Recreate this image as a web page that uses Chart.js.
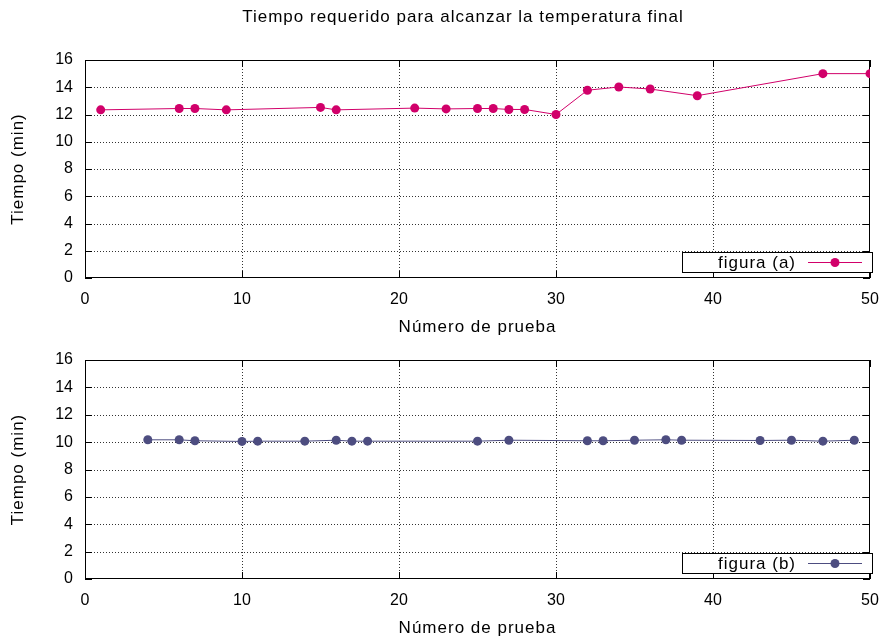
<!DOCTYPE html>
<html>
<head>
<meta charset="utf-8">
<script src="https://cdn.jsdelivr.net/npm/chart.js@4.4.0/dist/chart.umd.min.js"></script>
<style>
  body { margin: 0; background: #fff; }
  #wrap { position: relative; width: 886px; height: 640px; }
  canvas { position: absolute; left: 0; }
</style>
</head>
<body>
<div id="wrap">
  <canvas id="chartA" width="886" height="340" style="top:0"></canvas>
  <canvas id="chartB" width="886" height="300" style="top:340px"></canvas>
</div>
<script>
// figura (a)
const pruebaA = [1, 6, 7, 9, 15, 16, 21, 23, 25, 26, 27, 28, 30, 32, 34, 36, 39, 47, 50];
const tiempoA = [12.34, 12.44, 12.44, 12.34, 12.52, 12.34, 12.47, 12.41, 12.44, 12.44, 12.37, 12.37,
                 12.0, 13.78, 14.02, 13.87, 13.38, 15.0, 15.0];

// figura (b)
const pruebaB = [4, 6, 7, 10, 11, 14, 16, 17, 18, 25, 27, 32, 33, 35, 37, 38, 43, 45, 47, 49];
const tiempoB = [10.17, 10.17, 10.1, 10.05, 10.07, 10.07, 10.14, 10.07, 10.07, 10.07, 10.14,
                 10.1, 10.1, 10.14, 10.17, 10.14, 10.12, 10.14, 10.07, 10.14];

const xTicks = [0, 10, 20, 30, 40, 50];
const yTicks = [0, 2, 4, 6, 8, 10, 12, 14, 16];

const FONT = "'Liberation Sans', Arial, sans-serif";

// dotted grid, frame, inward ticks, axis titles and the boxed legend (gnuplot look)
const gnuplotStyle = {
  id: 'gnuplotStyle',
  beforeDatasetsDraw(chart) {
    const { ctx, chartArea: a, scales } = chart;
    ctx.save();
    ctx.lineWidth = 1;
    // grid
    ctx.strokeStyle = 'rgba(0,0,0,0.8)';
    ctx.setLineDash([1, 2]);
    ctx.beginPath();
    xTicks.slice(1, -1).forEach(v => {
      const x = Math.round(scales.x.getPixelForValue(v)) + 0.5;
      ctx.moveTo(x, a.top); ctx.lineTo(x, a.bottom);
    });
    yTicks.slice(1, -1).forEach(v => {
      const y = Math.round(scales.y.getPixelForValue(v)) + 0.5;
      ctx.moveTo(a.left, y); ctx.lineTo(a.right, y);
    });
    ctx.stroke();
    ctx.setLineDash([]);
    // frame
    ctx.strokeStyle = '#000';
    ctx.strokeRect(Math.round(a.left) + 0.5, Math.round(a.top) + 0.5,
      Math.round(a.right - a.left) - 1, Math.round(a.bottom - a.top) - 1);
    // inward ticks, mirrored
    ctx.beginPath();
    const t = 7;
    xTicks.forEach(v => {
      const x = Math.round(scales.x.getPixelForValue(v)) + 0.5;
      ctx.moveTo(x, a.bottom); ctx.lineTo(x, a.bottom - t);
      ctx.moveTo(x, a.top); ctx.lineTo(x, a.top + t);
    });
    yTicks.forEach(v => {
      const y = Math.round(scales.y.getPixelForValue(v)) + 0.5;
      ctx.moveTo(a.left, y); ctx.lineTo(a.left + t, y);
      ctx.moveTo(a.right, y); ctx.lineTo(a.right - t, y);
    });
    ctx.stroke();
    ctx.restore();
  },
  afterDraw(chart, args, opts) {
    const { ctx, chartArea: a } = chart;
    ctx.save();
    ctx.fillStyle = '#000';
    ctx.font = '17px ' + FONT;
    ctx.letterSpacing = '1px';
    ctx.textAlign = 'center';
    ctx.textBaseline = 'middle';
    if (opts.title) {
      ctx.fillText(opts.title, 463, 17);
    }
    ctx.fillText('Número de prueba', (a.left + a.right) / 2, a.bottom + 49);
    ctx.save();
    ctx.translate(18, (a.top + a.bottom) / 2);
    ctx.rotate(-Math.PI / 2);
    ctx.fillText('Tiempo (min)', 0, 0);
    ctx.restore();

    // legend box
    const ds = chart.data.datasets[0];
    const bx = 682, by = a.bottom - 26, bw = 190, bh = 20;
    ctx.fillStyle = '#fff';
    ctx.fillRect(bx, by, bw, bh);
    ctx.strokeStyle = '#000';
    ctx.lineWidth = 1;
    ctx.strokeRect(bx + 0.5, by + 0.5, bw, bh);
    const cy = by + bh / 2 + 0.5;
    ctx.fillStyle = '#000';
    ctx.textAlign = 'right';
    ctx.fillText(ds.label, 796, cy + 1);
    ctx.strokeStyle = ds.borderColor;
    ctx.beginPath();
    ctx.moveTo(808, cy); ctx.lineTo(862, cy);
    ctx.stroke();
    ctx.fillStyle = ds.pointBackgroundColor;
    ctx.beginPath();
    ctx.arc(835, cy, 4.5, 0, Math.PI * 2);
    ctx.fill();
    ctx.restore();
  }
};

function makeChart(id, label, xs, ys, color, padTop, xHeight, title) {
  return new Chart(document.getElementById(id), {
    type: 'scatter',
    data: {
      datasets: [{
        label: label,
        data: xs.map((x, i) => ({ x: x, y: ys[i] })),
        showLine: true,
        borderColor: color,
        borderWidth: 1,
        pointBackgroundColor: color,
        pointBorderWidth: 0,
        pointRadius: 4.5
      }]
    },
    options: {
      responsive: false,
      animation: false,
      layout: { padding: { top: padTop, right: 16, left: 0, bottom: 0 } },
      scales: {
        x: {
          type: 'linear', min: 0, max: 50,
          afterFit: s => { s.height = xHeight; s.paddingLeft = 0; s.paddingRight = 0; },
          afterBuildTicks: s => { s.ticks = xTicks.map(v => ({ value: v })); },
          grid: { display: false, drawTicks: false },
          border: { display: false },
          ticks: { padding: 12, color: '#000', font: { family: FONT, size: 16 } }
        },
        y: {
          min: 0, max: 16,
          afterFit: s => { s.width = 85; s.paddingTop = 0; s.paddingBottom = 0; },
          afterBuildTicks: s => { s.ticks = yTicks.map(v => ({ value: v })); },
          grid: { display: false, drawTicks: false },
          border: { display: false },
          ticks: { padding: 12, color: '#000', font: { family: FONT, size: 16 } }
        }
      },
      plugins: {
        legend: { display: false },
        tooltip: { enabled: false },
        gnuplotStyle: { title: title }
      }
    },
    plugins: [gnuplotStyle]
  });
}

makeChart('chartA', 'figura (a)', pruebaA, tiempoA, '#d1006a', 60, 62,
  'Tiempo requerido para alcanzar la temperatura final');
makeChart('chartB', 'figura (b)', pruebaB, tiempoB, '#4d4d80', 20, 61, null);
</script>
</body>
</html>
